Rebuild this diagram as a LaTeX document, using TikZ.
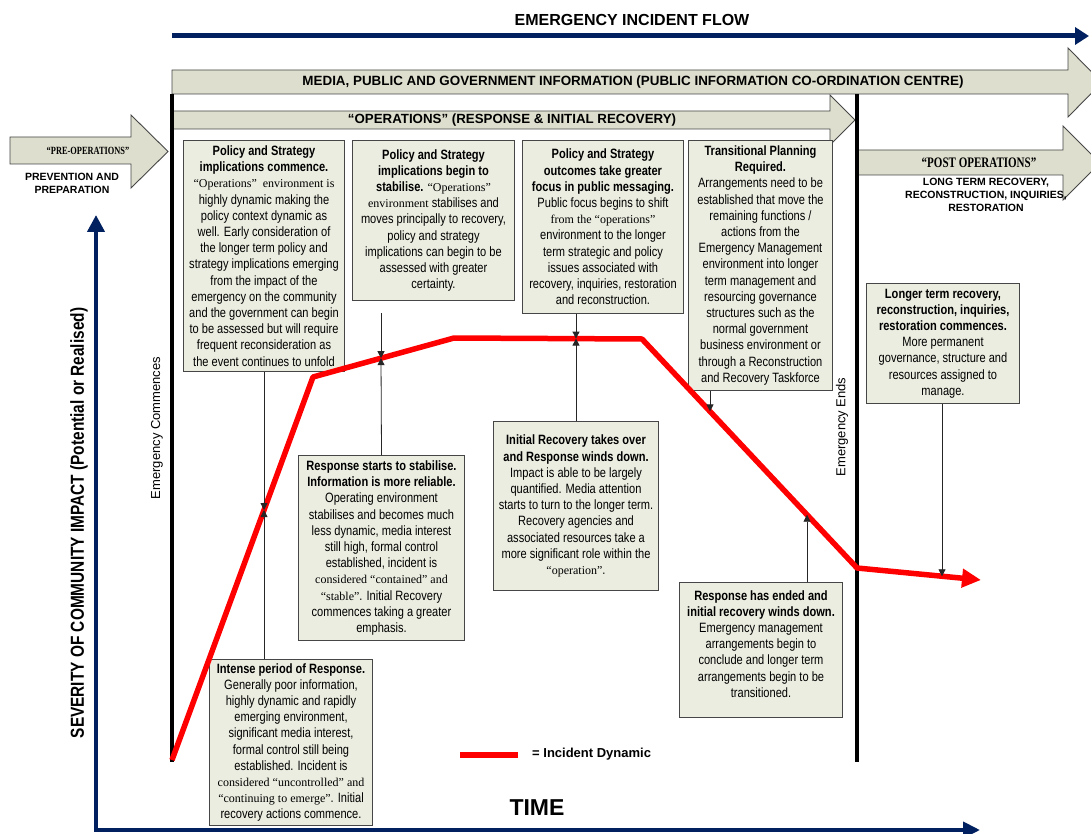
\documentclass[tikz,border=0pt]{standalone}
\usepackage{fontspec}
\setmainfont{Liberation Sans}
\newfontfamily\narrowfont[FakeStretch=0.82]{Liberation Sans}
\newfontfamily\tmsfont{Liberation Serif}
\newfontfamily\tmscond[FakeStretch=0.76]{Liberation Serif}
\usetikzlibrary{arrows.meta,calc}
\definecolor{navy}{RGB}{0,32,96}
\definecolor{boxfill}{RGB}{234,237,224}
\definecolor{arrfill}{RGB}{221,222,205}
\definecolor{edgegray}{RGB}{70,70,70}
\newcommand{\tmtxt}[1]{{\tmsfont\fontsize{12}{15}\selectfont #1}}
\begin{document}
\begin{tikzpicture}[x=1pt,y=-1pt,
  infobox/.style={draw=edgegray, line width=1pt, fill=boxfill, anchor=north west, align=center, inner sep=1pt,
    font=\narrowfont\fontsize{13.5}{16.2}\selectfont},
  blockarrow/.style={draw=edgegray, line width=0.9pt, fill=arrfill, line join=miter},
  conn/.style={draw=black!85, line width=0.8pt, -{Triangle[length=7pt,width=7pt]}},
  incident/.style={draw=red, line width=5.5pt, line join=round},
  vline/.style={draw=black, line width=4pt},
  lbl/.style={inner sep=0pt, align=center}]
\useasboundingbox (0,0) rectangle (1091,834);
\fill[white] (0,0) rectangle (1091,834);

% ---- top flow arrow
\node[lbl, font=\bfseries\fontsize{16}{19}\selectfont] (title) at (632,20) {EMERGENCY INCIDENT FLOW};
\coordinate (fl0) at (172,36);
\coordinate (fl1) at (1089,36);
\draw[navy, line width=5pt, -{Triangle[length=14pt,width=17pt]}] (fl0) -- (fl1);

% ---- block arrows
\draw[blockarrow] (172,70) -- (1068,70) -- (1068,48) -- (1102,82.5) -- (1068,117) -- (1068,94) -- (172,94) -- cycle;
\node[lbl, font=\bfseries\fontsize{13.4}{16}\selectfont] (media) at (633,82) {MEDIA, PUBLIC AND GOVERNMENT INFORMATION (PUBLIC INFORMATION CO-ORDINATION CENTRE)};

\draw[blockarrow] (172,111) -- (830,111) -- (830,95) -- (855,120) -- (830,145) -- (830,129) -- (172,129) -- cycle;
\node[lbl, font=\bfseries\fontsize{13.3}{16}\selectfont] (ops) at (512,120) {“OPERATIONS” (RESPONSE \& INITIAL RECOVERY)};

\draw[blockarrow] (10,137) -- (131,137) -- (131,115) -- (168,151.5) -- (131,188) -- (131,164) -- (10,164) -- cycle;
\node[lbl, font=\tmscond\bfseries\fontsize{11}{13}\selectfont] (preops) at (88,151) {“PRE-OPERATIONS”};
\node[lbl, font=\bfseries\fontsize{10.5}{13}\selectfont] (prevent) at (72,183.5) {PREVENTION AND\\PREPARATION};

\draw[blockarrow] (858,150) -- (1063,150) -- (1063,126) -- (1100,163) -- (1063,200) -- (1063,175) -- (858,175) -- cycle;
\node[lbl, font=\tmscond\bfseries\fontsize{14.5}{16}\selectfont] (postops) at (979,163) {“POST OPERATIONS”};
\node[lbl, font=\bfseries\fontsize{10.5}{13}\selectfont] (longterm) at (986,195) {LONG TERM RECOVERY,\\RECONSTRUCTION, INQUIRIES,\\RESTORATION};

% ---- vertical event lines
\coordinate (ec0) at (172,94);
\coordinate (ec1) at (172,762);
\coordinate (ee0) at (857,94);
\coordinate (ee1) at (857,762);
\draw[vline] (ec0) -- (ec1);
\draw[vline] (ee0) -- (ee1);
\node[lbl, rotate=90, font=\fontsize{13}{15}\selectfont] (ecl) at (157,428) {Emergency Commences};
\node[lbl, rotate=90, font=\fontsize{13}{15}\selectfont] (eel) at (842,427) {Emergency Ends};

% ---- axes
\coordinate (ytop) at (96,215);
\coordinate (orig) at (96,830);
\coordinate (xend) at (980,830);
\draw[navy, line width=4pt, line join=miter, {Triangle[length=17pt,width=17pt]}-{Triangle[length=17pt,width=16pt]}] (ytop) -- (orig) -- (xend);
\node[lbl, rotate=90, font=\narrowfont\bfseries\fontsize{18.8}{22}\selectfont] (sev) at (79,523) {SEVERITY OF COMMUNITY IMPACT (Potential or Realised)};
\node[lbl, font=\bfseries\fontsize{23}{26}\selectfont] (time) at (537,808) {TIME};

% ---- boxes
\node[infobox, minimum width=161pt, minimum height=231pt] (b1) at (183,140)
 {\textbf{Policy and Strategy}\\ \textbf{implications commence.}\\ \tmtxt{“Operations”\ \ environment is}\\ highly dynamic making the\\ policy context dynamic as\\ well. Early consideration of\\ the longer term policy and\\ strategy implications emerging\\ from the impact of the\\ emergency on the community\\ and the government can begin\\ to be assessed but will require\\ frequent reconsideration as\\ the event continues to unfold};

\node[infobox, minimum width=162pt, minimum height=160pt] (b2) at (352,140)
 {\textbf{Policy and Strategy}\\ \textbf{implications begin to}\\ \textbf{stabilise.} \tmtxt{“Operations”}\\ \tmtxt{environment} stabilises and\\ moves principally to recovery,\\ policy and strategy\\ implications can begin to be\\ assessed with greater\\ certainty.};

\node[infobox, minimum width=161pt, minimum height=173pt] (b3) at (522,140)
 {\textbf{Policy and Strategy}\\ \textbf{outcomes take greater}\\ \textbf{focus in public messaging.}\\ Public focus begins to shift\\ \tmtxt{from the “operations”}\\ environment to the longer\\ term strategic and policy\\ issues associated with\\ recovery, inquiries, restoration\\ and reconstruction.};

\node[infobox, minimum width=144pt, minimum height=250pt] (b4) at (688,140)
 {\textbf{Transitional Planning}\\ \textbf{Required.}\\ Arrangements need to be\\ established that move the\\ remaining functions /\\ actions from the\\ Emergency Management\\ environment into longer\\ term management and\\ resourcing governance\\ structures such as the\\ normal government\\ business environment or\\ through a Reconstruction\\ and Recovery Taskforce};

\node[infobox, minimum width=153pt, minimum height=120pt] (b5) at (866,283)
 {\textbf{Longer term recovery,}\\ \textbf{reconstruction, inquiries,}\\ \textbf{restoration commences.}\\ More permanent\\ governance, structure and\\ resources assigned to\\ manage.};

\node[infobox, minimum width=166pt, minimum height=185pt] (b6) at (298,455)
 {\textbf{Response starts to stabilise.}\\ \textbf{Information is more reliable.}\\ Operating environment\\ stabilises and becomes much\\ less dynamic, media interest\\ still high, formal control\\ established, incident is\\ \tmtxt{considered “contained” and}\\ \tmtxt{“stable”}. Initial Recovery\\ commences taking a greater\\ emphasis.};

\node[infobox, minimum width=163pt, minimum height=166pt] (b7) at (209,659)
 {\textbf{Intense period of Response.}\\ Generally poor information,\\ highly dynamic and rapidly\\ emerging environment,\\ significant media interest,\\ formal control still being\\ established. Incident is\\ \tmtxt{considered “uncontrolled” and}\\ \tmtxt{“continuing to emerge”}. Initial\\ recovery actions commence.};

\node[infobox, minimum width=165pt, minimum height=169pt] (b8) at (493,421)
 {\textbf{Initial Recovery takes over}\\ \textbf{and Response winds down.}\\ Impact is able to be largely\\ quantified. Media attention\\ starts to turn to the longer term.\\ Recovery agencies and\\ associated resources take a\\ more significant role within the\\ \tmtxt{“operation”}.};

\node[infobox, minimum width=163pt, minimum height=135pt] (b9) at (679,582)
 {\textbf{Response has ended and}\\ \textbf{initial recovery winds down.}\\ Emergency management\\ arrangements begin to\\ conclude and longer term\\ arrangements begin to be\\ transitioned.\\[-4pt] \mbox{}};

% ---- incident dynamic line
\coordinate (r0) at (172,760);
\coordinate (r1) at (313,377);
\coordinate (r2) at (454,338);
\coordinate (r3) at (642,339);
\coordinate (r4) at (857,568);
\coordinate (r5) at (981,580);
\draw[incident, -{Triangle[length=19pt,width=18pt]}] (r0) -- (r1) -- (r2) -- (r3) -- (r4) -- (r5);

% ---- connectors
\coordinate (m1) at (264,510);
\coordinate (m2) at (381,358.2);
\coordinate (m3) at (576,338.6);
\coordinate (m4) at (710,411.4);
\coordinate (m5) at (807,514.7);
\coordinate (m6) at (942,576.3);
\coordinate (c2top) at (381,313);
\draw[conn] (m1 |- b1.south) -- (m1);
\draw[conn] (m1 |- b7.north) -- (m1);
\draw[conn] (c2top) -- (m2);
\draw[conn] (b6.north) -- (m2);
\draw[conn] (m3 |- b3.south) -- (m3);
\draw[conn] (b8.north) -- (m3);
\draw[conn] (m4 |- b4.south) -- (m4);
\draw[conn] (m5 |- b9.north) -- (m5);
\draw[conn] (m6 |- b5.south) -- (m6);

% ---- legend
\coordinate (lg0) at (460,755);
\coordinate (lg1) at (518,755);
\draw[red, line width=6pt] (lg0) -- (lg1);
\node[lbl, anchor=west, font=\bfseries\fontsize{13}{15}\selectfont] (lgt) at (532,754) {= Incident Dynamic};
\end{tikzpicture}
\end{document}
